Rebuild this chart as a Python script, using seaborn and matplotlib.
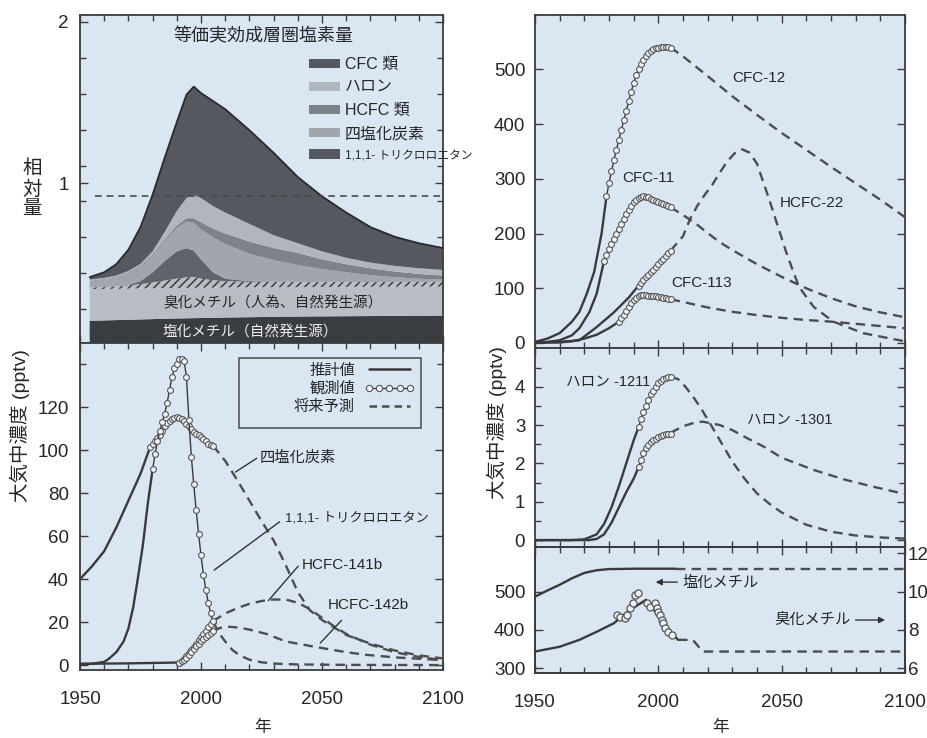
import matplotlib
matplotlib.use('Agg')
import matplotlib.pyplot as plt
import seaborn as sns
from matplotlib.patches import Patch, Rectangle
from matplotlib.lines import Line2D
from matplotlib.ticker import MultipleLocator, FixedLocator

sns.set_style('ticks')
plt.rcParams['font.family'] = ['Liberation Sans', 'Noto Sans CJK JP']
plt.rcParams['hatch.linewidth'] = 1.1

BG = '#dbe6f3'
EDGE = '#3c3c3c'
LINE = '#3a3a3a'
DASH = '#4d4d4d'

# ---- equivalent effective stratospheric chlorine (cumulative layer tops)
eesc_years = [1954, 1960, 1965, 1970, 1975, 1980, 1985, 1990, 1994, 1997, 2000,
              2005, 2010, 2020, 2030, 2040, 2050, 2060, 2070, 2080, 2090, 2100]
ch3cl_top = [0.15, 0.152, 0.154, 0.156, 0.158, 0.16, 0.162, 0.164, 0.165, 0.166, 0.167,
             0.168, 0.17, 0.172, 0.174, 0.176, 0.177, 0.178, 0.179, 0.18, 0.181, 0.182]
ch3br_nat_top = [0.345, 0.347, 0.348, 0.349, 0.35, 0.351, 0.352, 0.353, 0.354, 0.354, 0.355,
                 0.355, 0.356, 0.357, 0.358, 0.358, 0.359, 0.36, 0.36, 0.361, 0.361, 0.362]
ch3br_anth_top = [0.355, 0.358, 0.362, 0.368, 0.376, 0.386, 0.398, 0.41, 0.418, 0.42, 0.41,
                  0.4, 0.395, 0.39, 0.39, 0.389, 0.389, 0.389, 0.389, 0.39, 0.39, 0.39]
tce_top = [0.355, 0.358, 0.363, 0.372, 0.395, 0.45, 0.52, 0.58, 0.6, 0.585, 0.53,
           0.45, 0.41, 0.395, 0.392, 0.39, 0.39, 0.39, 0.39, 0.391, 0.391, 0.391]
ccl4_top = [0.395, 0.405, 0.42, 0.445, 0.485, 0.555, 0.645, 0.725, 0.765, 0.755, 0.715,
            0.665, 0.625, 0.565, 0.525, 0.495, 0.47, 0.45, 0.432, 0.42, 0.41, 0.405]
hcfc_top = [0.398, 0.408, 0.424, 0.45, 0.492, 0.563, 0.655, 0.74, 0.785, 0.785, 0.76,
            0.72, 0.69, 0.64, 0.6, 0.57, 0.53, 0.5, 0.475, 0.455, 0.44, 0.43]
halon_top = [0.405, 0.415, 0.43, 0.458, 0.502, 0.58, 0.7, 0.83, 0.91, 0.93, 0.91,
             0.86, 0.82, 0.75, 0.68, 0.63, 0.58, 0.54, 0.51, 0.49, 0.475, 0.465]
cfc_top = [0.42, 0.45, 0.5, 0.59, 0.73, 0.93, 1.16, 1.38, 1.55, 1.6, 1.56,
           1.51, 1.46, 1.33, 1.19, 1.04, 0.92, 0.82, 0.73, 0.67, 0.63, 0.6]
eesc_1980_level = 0.92

# ---- bottom left: CCl4, CH3CCl3, HCFC-141b, HCFC-142b (pptv)
ccl4_est_yr = [1950, 1955, 1960, 1965, 1970, 1975, 1979]
ccl4_est = [40, 46, 53, 64, 76.5, 89, 101.5]
ccl4_obs_yr = list(range(1979, 2006))
ccl4_obs = [101.5, 103, 104, 105.5, 107, 109, 111, 112.5, 113.5, 114.3, 115, 115.5, 115, 114.3,
            113.3, 112.3, 111, 109.8, 108.6, 107.6, 106.8, 106, 105, 104, 103, 102.5, 102]
ccl4_proj_yr = [2005, 2010, 2015, 2020, 2025, 2030, 2035, 2040, 2045, 2050, 2060, 2070, 2080, 2090, 2100]
ccl4_proj = [102, 95, 86, 76.5, 67, 58, 46.5, 34, 25.5, 21, 14, 10, 6.8, 4.5, 3.1]

tce_est_yr = [1950, 1955, 1960, 1962, 1965, 1968, 1970, 1972, 1974, 1976, 1978, 1980]
tce_est = [0.5, 0.6, 1.5, 3, 6, 11, 17, 27, 41, 56, 75, 91]
tce_obs_yr = list(range(1980, 2006))
tce_obs = [91, 98, 104, 109, 113, 117, 122, 128, 134, 138, 140, 142.5, 142.5, 141.5, 134, 114,
           97, 84, 72, 61, 51, 42, 35, 29, 24, 20]
tce_proj_yr = [2005, 2008, 2010, 2013, 2016, 2020, 2025, 2030, 2040, 2060, 2100]
tce_proj = [20, 14, 11, 7, 4.5, 2.5, 1.3, 0.7, 0.3, 0.1, 0]

hcfc_low_est_yr = [1950, 1970, 1991]
hcfc_low_est = [0.6, 0.8, 1.2]
h141_obs_yr = list(range(1991, 2006))
h141_obs = [1.2, 1.8, 2.8, 4, 5.5, 7, 8.5, 10, 11.5, 13, 14.5, 16, 17.5, 19, 20.5]
h141_proj_yr = [2005, 2010, 2015, 2020, 2025, 2030, 2035, 2040, 2045, 2050, 2055, 2060, 2070, 2080, 2090, 2100]
h141_proj = [20.5, 24, 26.5, 28.5, 29.8, 30.5, 30.5, 29, 26, 22, 18, 14.5, 9.5, 6, 3.8, 2.3]
h142_obs_yr = list(range(1991, 2006))
h142_obs = [1.2, 1.8, 2.5, 3.5, 4.8, 6.2, 7.5, 8.8, 10, 11, 12, 13, 14, 15, 16]
h142_proj_yr = [2005, 2008, 2012, 2016, 2020, 2027, 2035, 2048, 2060, 2068, 2080, 2100]
h142_proj = [16, 17.3, 17.8, 17.4, 16.5, 14.5, 11, 8.3, 6, 4.8, 3.6, 2.3]

# ---- top right: CFCs and HCFC-22 (pptv)
cfc12_est_yr = [1950, 1955, 1960, 1965, 1968, 1971, 1974, 1977, 1979]
cfc12_est = [2, 8, 18, 39, 57, 90, 130, 200, 268]
cfc12_obs_yr = list(range(1979, 2006))
cfc12_obs = [268, 292, 314, 334, 353, 371, 389, 407, 424, 442, 459, 475, 489, 500, 510, 518,
             525, 530, 534, 537, 539, 540, 541, 541, 541, 541, 540]
cfc12_proj_yr = [2005, 2010, 2015, 2020, 2030, 2040, 2050, 2060, 2070, 2080, 2090, 2100]
cfc12_proj = [540, 524, 506, 488, 451, 417, 384, 353, 322, 292, 262, 230]

cfc11_est_yr = [1950, 1955, 1960, 1965, 1968, 1972, 1975, 1978]
cfc11_est = [1, 2, 5, 14, 27, 56, 90, 150]
cfc11_obs_yr = list(range(1978, 2006))
cfc11_obs = [150, 161, 171, 181, 191, 200, 209, 218, 227, 236, 244, 251, 257, 262, 265, 267,
             268, 267, 266, 264, 262, 260, 258, 256, 254, 252, 250, 248]
cfc11_proj_yr = [2005, 2010, 2015, 2020, 2025, 2030, 2040, 2050, 2060, 2070, 2080, 2090, 2100]
cfc11_proj = [248, 234, 219, 201, 184, 170, 144, 121, 100, 82, 67, 56, 47]

cfc113_est_yr = [1950, 1960, 1965, 1970, 1975, 1980, 1984]
cfc113_est = [0.5, 1, 3, 8, 15, 27, 39]
cfc113_obs_yr = list(range(1984, 2006))
cfc113_obs = [39, 45, 52, 59, 66, 73, 79, 83, 86, 87, 87, 87, 86.5, 86, 85.5, 85, 84.5, 84, 83, 82, 81, 80]
cfc113_proj_yr = [2005, 2010, 2015, 2020, 2030, 2040, 2050, 2060, 2070, 2080, 2090, 2100]
cfc113_proj = [80, 75, 70, 65, 57, 51, 46, 42, 39, 35, 31, 27]

hcfc22_est_yr = [1950, 1960, 1968, 1975, 1982, 1988, 1992]
hcfc22_est = [1, 2, 5, 29, 56, 83, 105]
hcfc22_obs_yr = list(range(1992, 2006))
hcfc22_obs = [105, 110, 115, 120, 124, 129, 134, 139, 144, 149, 154, 159, 164, 169]
hcfc22_proj_yr = [2005, 2010, 2013, 2016, 2019, 2022, 2025, 2028, 2031, 2034, 2037, 2040,
                  2045, 2052, 2057, 2063, 2071, 2083, 2100]
hcfc22_proj = [169, 195, 228, 252, 272, 290, 312, 332, 347, 354, 348, 328,
               262, 164, 103, 66, 39, 18, 3]

# ---- middle right: halons (pptv)
h1211_est_yr = [1950, 1965, 1970, 1975, 1978, 1981, 1984, 1987, 1990, 1992]
h1211_est = [0, 0, 0.02, 0.15, 0.42, 0.85, 1.4, 2.0, 2.6, 2.95]
h1211_obs_yr = list(range(1992, 2006))
h1211_obs = [2.95, 3.15, 3.35, 3.5, 3.65, 3.8, 3.9, 4.0, 4.1, 4.16, 4.21, 4.24, 4.26, 4.26]
h1211_proj_yr = [2005, 2008, 2011, 2014, 2017, 2020, 2025, 2030, 2035, 2040, 2045, 2050,
                 2060, 2070, 2080, 2090, 2100]
h1211_proj = [4.26, 4.2, 4.0, 3.75, 3.47, 3.15, 2.6, 2.05, 1.6, 1.22, 0.95, 0.72,
              0.4, 0.22, 0.12, 0.07, 0.04]

h1301_est_yr = [1950, 1972, 1975, 1978, 1981, 1984, 1987, 1990, 1992]
h1301_est = [0, 0, 0.03, 0.15, 0.45, 0.85, 1.25, 1.6, 1.9]
h1301_obs_yr = list(range(1992, 2006))
h1301_obs = [1.9, 2.1, 2.28, 2.4, 2.48, 2.55, 2.6, 2.65, 2.69, 2.72, 2.75, 2.77, 2.78, 2.78]
h1301_proj_yr = [2005, 2010, 2015, 2018, 2025, 2030, 2036, 2043, 2050, 2063, 2076, 2088, 2100]
h1301_proj = [2.8, 2.97, 3.07, 3.09, 3.0, 2.87, 2.66, 2.43, 2.15, 1.83, 1.57, 1.38, 1.2]

# ---- bottom right: methyl chloride (left axis) and methyl bromide (right axis)
ch3cl_est_yr = [1950, 1955, 1960, 1965, 1970, 1975, 1980, 1990, 2000, 2007]
ch3cl_est = [487, 503, 518, 535, 549, 556, 559, 560, 560, 560]
ch3cl_proj_yr = [2007, 2100]
ch3cl_proj = [560, 560]

ch3br_est_yr = [1950, 1960, 1968, 1975, 1982, 1988, 1995, 2001, 2005, 2008]
ch3br_est = [6.87, 7.12, 7.48, 7.9, 8.35, 9.0, 9.57, 8.6, 7.9, 7.48]
ch3br_proj_yr = [2008, 2014, 2018, 2100]
ch3br_proj = [7.48, 7.48, 6.87, 6.87]
ch3br_obs_yr = [1983.1, 1984.5, 1986.5, 1987.2, 1988.5, 1989.8, 1990.5, 1991.9, 1995.3, 1996.6,
                1998.6, 1999.3, 2000.0, 2000.7, 2001.4, 2002.0, 2002.7, 2004.1, 2005.4]
ch3br_obs = [8.78, 8.70, 8.61, 8.78, 9.13, 9.39, 9.83, 9.95, 9.39, 9.22,
             9.39, 9.13, 8.96, 8.78, 8.52, 8.35, 8.09, 7.91, 7.74]


def put_line(ax, years, vals, kind):
    if kind == 'est':
        sns.lineplot(x=years, y=vals, ax=ax, color=LINE, lw=1.7, errorbar=None, sort=False, zorder=3)
    elif kind == 'obs':
        sns.lineplot(x=years, y=vals, ax=ax, color=LINE, lw=1.0, marker='o', markersize=4.2,
                     markerfacecolor='#f2f5f8', markeredgecolor='#555555', markeredgewidth=0.8,
                     errorbar=None, sort=False, zorder=4)
    else:
        sns.lineplot(x=years, y=vals, ax=ax, color=DASH, lw=1.7, linestyle=(0, (4, 2.6)),
                     errorbar=None, sort=False, zorder=3)


def frame(ax, xlabels=False, ypad=8):
    ax.set_facecolor(BG)
    for s in ax.spines.values():
        s.set_color(EDGE)
        s.set_linewidth(1.3)
    ax.set_xlim(1950, 2100)
    ax.xaxis.set_major_locator(MultipleLocator(50))
    ax.xaxis.set_minor_locator(MultipleLocator(10))
    ax.tick_params(which='both', direction='in', top=True, right=True, color=EDGE, width=1.0,
                   labelsize=13.5, labelbottom=xlabels)
    ax.tick_params(which='major', length=6)
    ax.tick_params(which='minor', length=4)
    ax.tick_params(axis='x', pad=15)
    ax.tick_params(axis='y', pad=ypad)
    ax.set_xlabel('')
    ax.set_ylabel('')


fig = plt.figure(figsize=(9.27, 7.38), dpi=100)
ax_eesc = fig.add_axes([0.0863, 0.5352, 0.3916, 0.4444])
ax_lc = fig.add_axes([0.0863, 0.0921, 0.3916, 0.4431])
ax_cfc = fig.add_axes([0.5771, 0.5285, 0.3991, 0.4512])
ax_hal = fig.add_axes([0.5771, 0.2588, 0.3991, 0.2696])
ax_me = fig.add_axes([0.5771, 0.0881, 0.3991, 0.1707])

# ---------------- top left: stacked EESC
ax = ax_eesc
layers = [
    ([0] * len(eesc_years), ch3cl_top, '#393c41'),
    (ch3cl_top, ch3br_nat_top, '#b9bec5'),
    (ch3br_anth_top, tce_top, '#60646a'),
    (tce_top, ccl4_top, '#a1a6ad'),
    (ccl4_top, hcfc_top, '#7e838a'),
    (hcfc_top, halon_top, '#b1b6bd'),
    (halon_top, cfc_top, '#55595f'),
]
for lo, hi, c in layers:
    ax.fill_between(eesc_years, lo, hi, facecolor=c, edgecolor='none', lw=0, zorder=2)
ax.fill_between(eesc_years, ch3br_nat_top, ch3br_anth_top, facecolor='#b9bec5', edgecolor='#3d3d3d',
                hatch='////', lw=0, zorder=2)
sns.lineplot(x=eesc_years, y=cfc_top, ax=ax, color='#2a2a2a', lw=1.3, errorbar=None, sort=False, zorder=3)
ax.axhline(eesc_1980_level, xmin=0.04, xmax=1, color='#4a4a4a', lw=1.2, ls=(0, (4, 3)), zorder=3)
frame(ax)
ax.set_ylim(0.012, 2.043)
ax.yaxis.set_major_locator(FixedLocator([0, 1, 2]))
ax.yaxis.set_minor_locator(MultipleLocator(2 / 9))
ax.text(0.504, 0.933, '等価実効成層圏塩素量', transform=ax.transAxes, ha='center', va='center', fontsize=13)
ax.text(1984.3, 0.258, '臭化メチル（人為、自然発生源）', ha='left', va='center', fontsize=10.5, zorder=5)
ax.text(1984.3, 0.08, '塩化メチル（自然発生源）', ha='left', va='center', fontsize=10.5,
        color='#eeeeee', zorder=5)
leg_handles = [Patch(facecolor='#55595f', edgecolor='none'),
               Patch(facecolor='#b1b6bd', edgecolor='none'),
               Patch(facecolor='#7e838a', edgecolor='none'),
               Patch(facecolor='#a1a6ad', edgecolor='none'),
               Patch(facecolor='#55595f', edgecolor='none')]
leg_labels = ['CFC 類', 'ハロン', 'HCFC 類', '四塩化炭素', '1,1,1- トリクロロエタン']
leg = ax.legend(leg_handles, leg_labels, loc='upper left', bbox_to_anchor=(0.632, 0.872), frameon=False,
                fontsize=11.5, handlelength=1.9, handleheight=0.55, handletextpad=0.3, labelspacing=0.5,
                borderpad=0, borderaxespad=0)
leg.get_texts()[-1].set_fontsize(8.5)

# ---------------- bottom left: other long-lived gases
ax = ax_lc
put_line(ax, ccl4_est_yr, ccl4_est, 'est')
put_line(ax, ccl4_obs_yr, ccl4_obs, 'obs')
put_line(ax, ccl4_proj_yr, ccl4_proj, 'proj')
put_line(ax, tce_est_yr, tce_est, 'est')
put_line(ax, tce_obs_yr, tce_obs, 'obs')
put_line(ax, tce_proj_yr, tce_proj, 'proj')
put_line(ax, hcfc_low_est_yr, hcfc_low_est, 'est')
put_line(ax, h141_obs_yr, h141_obs, 'obs')
put_line(ax, h141_proj_yr, h141_proj, 'proj')
put_line(ax, h142_obs_yr, h142_obs, 'obs')
put_line(ax, h142_proj_yr, h142_proj, 'proj')
frame(ax, xlabels=True)
ax.set_ylim(-2.3, 149.8)
ax.yaxis.set_major_locator(FixedLocator([0, 20, 40, 60, 80, 100, 120]))
ax.yaxis.set_minor_locator(FixedLocator([140]))

leaders = [((2013.3, 89.1), (2024.0, 96.9)), ((2004.5, 43.4), (2033.4, 67.4)),
           ((2027.1, 29.0), (2040.9, 47.0)), ((2048.5, 9.3), (2058.8, 21.7))]
for p0, p1 in leaders:
    ax.annotate('', xy=p0, xytext=p1, arrowprops=dict(arrowstyle='-', color='#333333', lw=1.0))
ax.text(2024.4, 96.3, '四塩化炭素', ha='left', va='center', fontsize=11)
ax.text(2034.8, 68.4, '1,1,1- トリクロロエタン', ha='left', va='center', fontsize=9.5)
ax.text(2041.7, 46.5, 'HCFC-141b', ha='left', va='center', fontsize=11)
ax.text(2052.5, 27.9, 'HCFC-142b', ha='left', va='center', fontsize=11)

ax.add_patch(Rectangle((0.438, 0.740), 0.501, 0.214, transform=ax.transAxes, facecolor=BG,
                       edgecolor='#555555', lw=1.2, zorder=6))
lh = [Line2D([], [], color=LINE, lw=1.8),
      Line2D([], [], color=LINE, lw=1.0, marker='o', markersize=4.5, markerfacecolor='#f2f5f8',
             markeredgecolor='#555555', markeredgewidth=0.8),
      Line2D([], [], color=DASH, lw=1.8, ls=(0, (3, 2)))]
leg2 = ax.legend(lh, ['推計値', '観測値', '将来予測'], loc='upper right', bbox_to_anchor=(0.93, 0.946),
                 frameon=False, markerfirst=False, numpoints=5, handlelength=3.3, fontsize=11,
                 labelspacing=0.25, borderpad=0.2, borderaxespad=0, handletextpad=0.6)
leg2.set_zorder(7)

# ---------------- top right: CFCs and HCFC-22
ax = ax_cfc
for est_x, est_y, obs_x, obs_y, pr_x, pr_y in [
        (cfc12_est_yr, cfc12_est, cfc12_obs_yr, cfc12_obs, cfc12_proj_yr, cfc12_proj),
        (cfc11_est_yr, cfc11_est, cfc11_obs_yr, cfc11_obs, cfc11_proj_yr, cfc11_proj),
        (cfc113_est_yr, cfc113_est, cfc113_obs_yr, cfc113_obs, cfc113_proj_yr, cfc113_proj),
        (hcfc22_est_yr, hcfc22_est, hcfc22_obs_yr, hcfc22_obs, hcfc22_proj_yr, hcfc22_proj)]:
    put_line(ax, est_x, est_y, 'est')
    put_line(ax, obs_x, obs_y, 'obs')
    put_line(ax, pr_x, pr_y, 'proj')
frame(ax, ypad=7)
ax.set_ylim(-9.1, 599.6)
ax.yaxis.set_major_locator(MultipleLocator(100))
ax.text(2040.8, 484.5, 'CFC-12', ha='center', va='center', fontsize=11)
ax.text(1995.8, 301.6, 'CFC-11', ha='center', va='center', fontsize=11)
ax.text(2062.3, 256, 'HCFC-22', ha='center', va='center', fontsize=11)
ax.text(2017.7, 109.7, 'CFC-113', ha='center', va='center', fontsize=11)

# ---------------- middle right: halons
ax = ax_hal
put_line(ax, h1211_est_yr, h1211_est, 'est')
put_line(ax, h1211_obs_yr, h1211_obs, 'obs')
put_line(ax, h1211_proj_yr, h1211_proj, 'proj')
put_line(ax, h1301_est_yr, h1301_est, 'est')
put_line(ax, h1301_obs_yr, h1301_obs, 'obs')
put_line(ax, h1301_proj_yr, h1301_proj, 'proj')
frame(ax, ypad=7)
ax.set_ylim(-0.18, 5.01)
ax.yaxis.set_major_locator(FixedLocator([0, 1, 2, 3, 4]))
ax.yaxis.set_minor_locator(FixedLocator([0.5, 1.5, 2.5, 3.5, 4.5]))
ax.text(1979.6, 4.13, 'ハロン -1211', ha='center', va='center', fontsize=10.5)
ax.text(2053.4, 3.13, 'ハロン -1301', ha='center', va='center', fontsize=10.5)

# ---------------- bottom right: methyl chloride / methyl bromide
ax = ax_me
put_line(ax, ch3cl_est_yr, ch3cl_est, 'est')
put_line(ax, ch3cl_proj_yr, ch3cl_proj, 'proj')
frame(ax, xlabels=True, ypad=7)
ax.tick_params(which='both', right=False)
ax.set_ylim(287.7, 616.7)
ax.yaxis.set_major_locator(FixedLocator([300, 400, 500]))
ax.annotate('', xy=(1997.8, 525), xytext=(2008.8, 525),
            arrowprops=dict(arrowstyle='-|>', color='#333333', lw=1.0, mutation_scale=9))
ax.text(2010.0, 525, '塩化メチル', ha='left', va='center', fontsize=11)
ax.text(2062.7, 426, '臭化メチル', ha='center', va='center', fontsize=11)
ax.annotate('', xy=(2093.1, 426), xytext=(2078.9, 426),
            arrowprops=dict(arrowstyle='-|>', color='#333333', lw=1.0, mutation_scale=9))

ax_r = ax.twinx()
put_line(ax_r, ch3br_est_yr, ch3br_est, 'est')
put_line(ax_r, ch3br_proj_yr, ch3br_proj, 'proj')
sns.scatterplot(x=ch3br_obs_yr, y=ch3br_obs, ax=ax_r, marker='o', s=26, color='#eef2f6',
                edgecolor='#555555', linewidth=0.9, zorder=5)
ax_r.set_ylim(5.75, 12.33)
ax_r.yaxis.set_major_locator(FixedLocator([6, 8, 10, 12]))
ax_r.tick_params(axis='y', direction='in', length=6, width=1.0, color=EDGE, labelsize=13.5, pad=2)
ax_r.set_ylabel('')
for s in ax_r.spines.values():
    s.set_color(EDGE)
    s.set_linewidth(1.3)

# ---------------- figure labels
for i, ch in enumerate(['相', '対', '量']):
    fig.text(0.0345, 0.7705 - i * 0.0275, ch, ha='center', va='center', fontsize=14, rotation=0)
fig.text(0.0216, 0.4228, '大気中濃度 (pptv)', ha='center', va='center', rotation=90, fontsize=14)
fig.text(0.536, 0.4268, '大気中濃度 (pptv)', ha='center', va='center', rotation=90, fontsize=14)
fig.text(0.2837, 0.0149, '年', ha='center', va='center', fontsize=12)
fig.text(0.777, 0.0149, '年', ha='center', va='center', fontsize=12)

fig.savefig('out.png', dpi=100)
